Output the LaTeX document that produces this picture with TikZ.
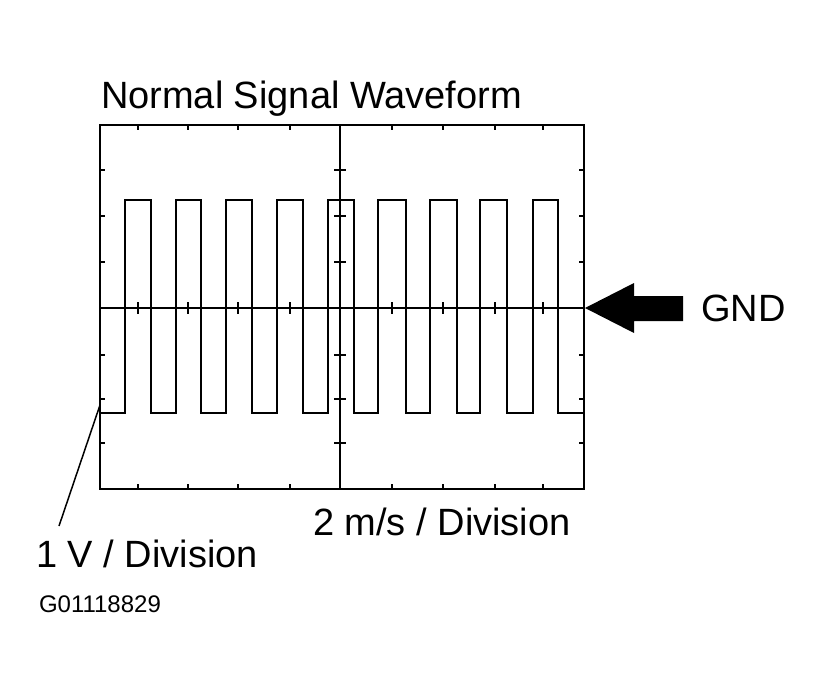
\documentclass[tikz,border=0pt]{standalone}
\usepackage{fontspec}
\setmainfont{Liberation Sans}
\begin{document}
\begin{tikzpicture}[x=1pt,y=-1pt,line width=2pt,
    lbl/.style={anchor=base west,inner sep=0pt,font=\fontsize{38}{40}\selectfont},
    tick/.style={line width=1.5pt}]
    \useasboundingbox (0,0) rectangle (829,685);
    \coordinate (TL) at (100,125);
    \coordinate (BR) at (584,489);

    % Schirm
    \draw (TL) rectangle (BR);
    \draw (340,125) -- (340,489);
    \draw[line width=1.5pt] (100,308) -- (584,308);
    \foreach \x in {138,188,238,290,392,443,495,543} {
        \draw[tick] (\x,125) -- ++(0,5);
        \draw[tick] (\x,489) -- ++(0,-5);
        \draw[tick] (\x,302) -- (\x,314);
    }
    \foreach \y in {170,216,262,355,399,443} {
        \draw[tick] (100,\y) -- ++(5,0);
        \draw[tick] (584,\y) -- ++(-5,0);
        \draw[tick] (334,\y) -- (346,\y);
    }

    % Signal
    \draw (100,413)
      \foreach \r/\f in {125/151,176/201,226/252,277/303,328/354,378/406,430/457,480/507,533/558} {
        -- (\r,413) -- (\r,200) -- (\f,200) -- (\f,413)
      } -- (584,413);

    % GND-Pfeil
    \coordinate (tip) at (585,308);
    \fill (tip) -- (634,283) -- (634,296) -- (683,296) -- (683,321) -- (634,321) -- (634,333) -- cycle;

    \node[lbl] (title) at (100,108) {Normal Signal Waveform};
    \node[lbl] (gnd) at (700,321) {GND};
    \node[lbl] (tdiv) at (312,535) {2 m/s / Division};
    \node[lbl] (vdiv) at (35,567) {1 V / Division};
    \node[lbl,font=\fontsize{24}{26}\selectfont] (code) at (38,612) {G01118829};
    \coordinate (vpt) at (100,405);
    \draw[line width=1.5pt] (59,526) -- (vpt);
\end{tikzpicture}
\end{document}
